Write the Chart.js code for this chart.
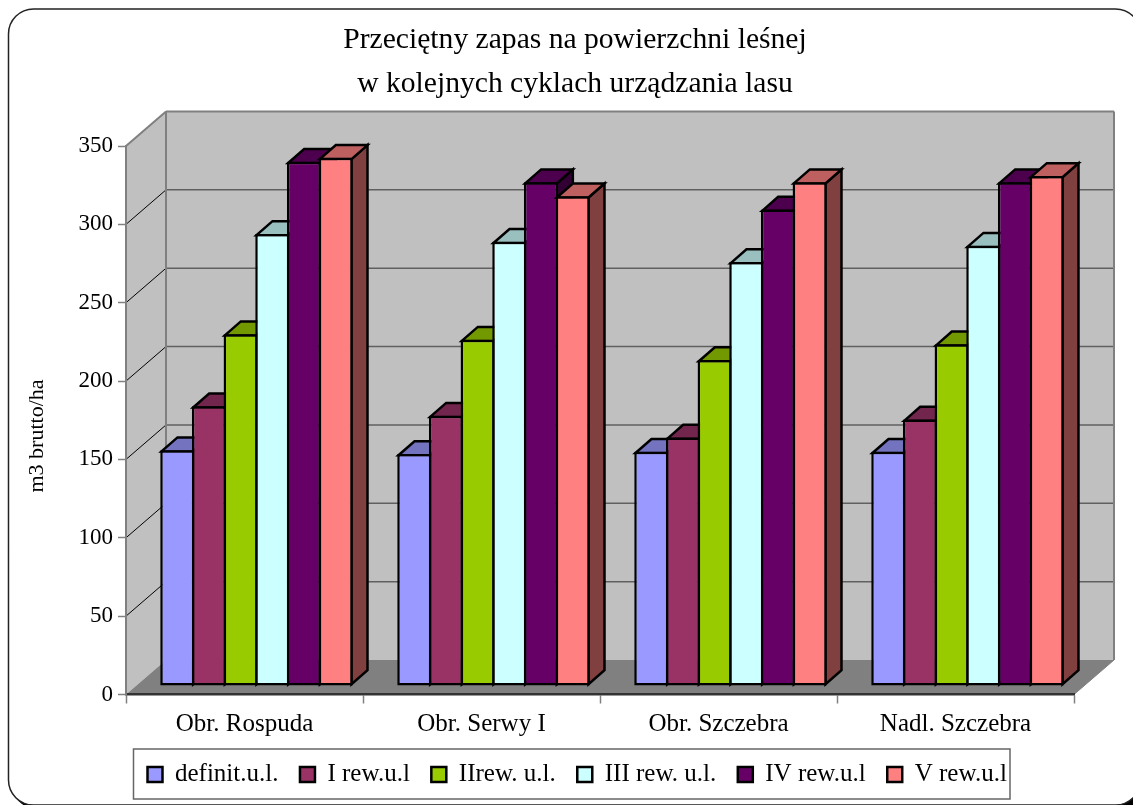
<!DOCTYPE html>
<html>
<head>
<meta charset="utf-8">
<style>
html, body { margin: 0; padding: 0; background: #fff; overflow: hidden; }
canvas { display: block; }
</style>
<script src="https://cdn.jsdelivr.net/npm/chart.js@4/dist/chart.umd.min.js"></script>
</head>
<body>
<canvas id="chart" width="1133" height="805"></canvas>
<script>
// wartosci
const categories = ['Obr. Rospuda', 'Obr. Serwy I', 'Obr. Szczebra', 'Nadl. Szczebra'];
const definit = [150.5, 148, 149.5, 149.5];
const rew1 = [178.5, 172.5, 158.5, 170];
const rew2 = [224.5, 221, 208, 218];
const rew3 = [288.5, 283.5, 270.5, 281];
const rew4 = [334.5, 321.5, 304, 321.5];
const rew5 = [337, 312.5, 321.5, 325.5];
const seriesNames = ['definit.u.l.', 'I rew.u.l', 'IIrew. u.l.', 'III rew. u.l.', 'IV rew.u.l', 'V rew.u.l'];
const titleLines = ['Przeciętny zapas na powierzchni leśnej', 'w kolejnych cyklach urządzania lasu'];
const axisTitle = 'm3 brutto/ha';

const serif = '"Liberation Serif", "Times New Roman", serif';

// kolory: front, gora, bok
const fronts = ['#9999FF', '#993366', '#99CC00', '#CCFFFF', '#660066', '#FF8080'];
const tops = ['#7373BF', '#73264D', '#739900', '#99BFBF', '#4D004D', '#BF6060'];
const sides = ['#4D4D80', '#4D1A33', '#4D6600', '#668080', '#330033', '#804040'];

// przesuniecia "3D"
const WALL = { dx: 40, dy: -34.5 };
const BAR_SHIFT = { dx: 12, dy: -8.5 };
const BAR_DEPTH = { dx: 16, dy: -14 };
const BAR_LINE = 2.5;

function poly(ctx, pts, fill, stroke, lw) {
  ctx.beginPath();
  pts.forEach((p, i) => i ? ctx.lineTo(p[0], p[1]) : ctx.moveTo(p[0], p[1]));
  ctx.closePath();
  if (fill) { ctx.fillStyle = fill; ctx.fill(); }
  if (stroke) { ctx.strokeStyle = stroke; ctx.lineWidth = lw; ctx.stroke(); }
}

function line(ctx, x1, y1, x2, y2, color, lw) {
  ctx.beginPath();
  ctx.moveTo(x1, y1);
  ctx.lineTo(x2, y2);
  ctx.strokeStyle = color;
  ctx.lineWidth = lw;
  ctx.stroke();
}

const frame3d = {
  id: 'frame3d',
  afterLayout(chart) {
    // tytul i legenda nie sa wysrodkowane na calym obrazku
    chart.titleBlock.left = 1150 - chart.titleBlock.right;
    chart.legend.left = 126;
    chart.legend.top = 762 - chart.options.plugins.legend.labels.padding;
  },
  beforeDraw(chart) {
    const { ctx, chartArea: a, scales: { y } } = chart;
    ctx.save();
    ctx.fillStyle = '#fff';
    ctx.fillRect(0, 0, chart.width, chart.height);

    // ramka z cieniem
    ctx.beginPath();
    ctx.roundRect(12, 13, 1132, 796, 25);
    ctx.fillStyle = '#000';
    ctx.fill();
    ctx.beginPath();
    ctx.roundRect(8.5, 9, 1132, 796, 25);
    ctx.fillStyle = '#fff';
    ctx.fill();
    ctx.strokeStyle = '#222';
    ctx.lineWidth = 1.5;
    ctx.stroke();

    // sciany i podloga
    const bx = a.left + WALL.dx, bxr = a.right + WALL.dx;
    const y0 = y.getPixelForValue(0), yTop = y.getPixelForValue(350);
    poly(ctx, [[a.left, y0], [bx, y0 + WALL.dy], [bx, yTop + WALL.dy], [a.left, yTop]], '#C0C0C0');
    poly(ctx, [[bx, y0 + WALL.dy], [bxr, y0 + WALL.dy], [bxr, yTop + WALL.dy], [bx, yTop + WALL.dy]], '#C0C0C0');
    poly(ctx, [[a.left, y0], [a.right, y0], [bxr, y0 + WALL.dy], [bx, y0 + WALL.dy]], '#808080');

    // linie siatki
    y.ticks.forEach(t => {
      if (t.value === 0 || t.value === 350) return;
      const py = y.getPixelForValue(t.value);
      line(ctx, bx, py + WALL.dy, bxr, py + WALL.dy, '#606060', 1.5);
      line(ctx, a.left, py, bx, py + WALL.dy, '#000', 1);
    });

    // krawedzie scian
    line(ctx, a.left, yTop, bx, yTop + WALL.dy, '#808080', 2);
    line(ctx, bx, yTop + WALL.dy, bxr, yTop + WALL.dy, '#808080', 2);
    line(ctx, bx, yTop + WALL.dy, bx, y0 + WALL.dy, '#808080', 2);
    line(ctx, bxr, yTop + WALL.dy, bxr, y0 + WALL.dy, '#808080', 2);
    line(ctx, a.right, y0, bxr, y0 + WALL.dy, '#808080', 1);

    // ramka legendy
    ctx.strokeStyle = '#666';
    ctx.lineWidth = 1.5;
    ctx.strokeRect(133.5, 749, 876.5, 50);

    // opis osi
    ctx.translate(37, 436);
    ctx.rotate(-Math.PI / 2);
    ctx.fillStyle = '#000';
    ctx.font = '22px ' + serif;
    ctx.textAlign = 'center';
    ctx.textBaseline = 'middle';
    ctx.fillText(axisTitle, 0, 0);
    ctx.restore();
  },
  // slupki rysowane od lewej do prawej, kazdy nastepny przykrywa bok poprzedniego
  beforeDatasetsDraw(chart) {
    const { ctx } = chart;
    const inset = BAR_LINE / 2;
    chart.getSortedVisibleDatasetMetas().forEach(meta => {
      const idx = meta.index;
      ctx.save();
      ctx.translate(BAR_SHIFT.dx, BAR_SHIFT.dy);
      meta.data.forEach(bar => {
        const l = bar.x - bar.width / 2 + inset, r = bar.x + bar.width / 2 - inset;
        const t = bar.y + inset, b = bar.base - inset;
        const d = BAR_DEPTH;
        poly(ctx, [[r, t], [r + d.dx, t + d.dy], [r + d.dx, b + d.dy], [r, b]], sides[idx], '#000', BAR_LINE);
        poly(ctx, [[l, t], [l + d.dx, t + d.dy], [r + d.dx, t + d.dy], [r, t]], tops[idx], '#000', BAR_LINE);
      });
      meta.controller.draw();
      ctx.restore();
    });
    return false;
  }
};

new Chart(document.getElementById('chart'), {
  type: 'bar',
  data: {
    labels: categories,
    datasets: [definit, rew1, rew2, rew3, rew4, rew5].map((values, i) => ({
      label: seriesNames[i],
      data: values,
      backgroundColor: fronts[i],
      borderColor: '#000',
      borderWidth: BAR_LINE,
      borderSkipped: false,
      categoryPercentage: 0.8017,
      barPercentage: 1.079
    }))
  },
  plugins: [frame3d],
  options: {
    responsive: false,
    animation: false,
    layout: { padding: { left: 0, right: 59, top: 0, bottom: 0 } },
    plugins: {
      tooltip: { enabled: false },
      title: {
        display: true,
        text: titleLines,
        color: '#000',
        font: { family: serif, size: 29.6, weight: 'normal', lineHeight: '44px' },
        padding: { top: 18, bottom: 40 }
      },
      legend: {
        position: 'bottom',
        align: 'start',
        labels: {
          color: '#000',
          font: { family: serif, size: 25 },
          boxWidth: 15,
          boxHeight: 15,
          padding: 21.5
        }
      }
    },
    scales: {
      x: {
        grid: { drawOnChartArea: false, tickLength: 9, tickColor: '#808080', tickWidth: 1.5 },
        border: { color: '#333', width: 2.5 },
        ticks: { color: '#000', font: { family: serif, size: 25 }, padding: 6, maxRotation: 0 },
        afterFit(s) { s.height = 805 - 694.5 - s.chart.legend.height; }
      },
      y: {
        min: 0,
        max: 350,
        grid: { drawOnChartArea: false, tickLength: 8, tickColor: '#808080', tickWidth: 1.5 },
        border: { color: '#808080', width: 2 },
        ticks: { stepSize: 50, color: '#000', font: { family: serif, size: 23 }, padding: 5 },
        afterFit(s) { s.width = 126; }
      }
    }
  }
});
</script>
</body>
</html>
